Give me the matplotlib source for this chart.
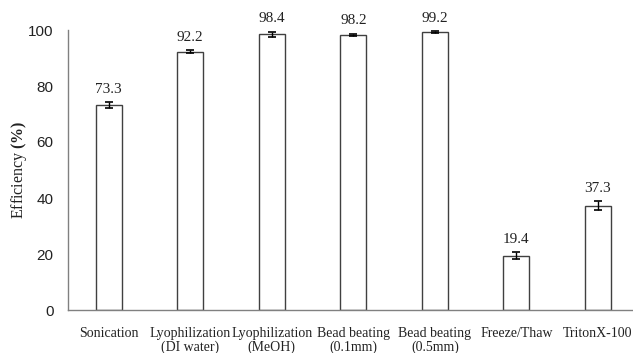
import matplotlib
matplotlib.use("Agg")
import matplotlib.pyplot as plt
import numpy as np

plt.rcParams["mathtext.fontset"] = "custom"
plt.rcParams["mathtext.rm"] = "Liberation Serif"
plt.rcParams["mathtext.bf"] = "Liberation Serif:bold"

categories = ["Sonication", "Lyophilization\n(DI water)", "Lyophilization\n(MeOH)",
              "Bead beating\n(0.1mm)", "Bead beating\n(0.5mm)", "Freeze/Thaw", "TritonX-100"]
values = [73.3, 92.2, 98.4, 98.2, 99.2, 19.4, 37.3]
errors = [1.0, 0.5, 1.0, 0.4, 0.3, 1.3, 1.5]
yticks = [0, 20, 40, 60, 80, 100]

fig = plt.figure(figsize=(6.33, 3.53), dpi=100)
ax = fig.add_axes([68/633, 43/353, 1 - 68/633, (310-30)/353])
x = np.arange(len(categories))
ax.bar(x, values, width=0.32, color="white", edgecolor="#404040", linewidth=1.0, zorder=2)
ax.errorbar(x, values, yerr=errors, fmt="none", ecolor="black", elinewidth=1.0,
            capsize=3, capthick=1.2, zorder=3)
for xi, v, e in zip(x, values, errors):
    ax.text(xi, v + e + 2.3, f"{v:.1f}", ha="center", va="bottom",
            fontfamily="Liberation Serif", fontsize=11, color="#222222")

ax.set_xlim(-0.5, 6.43)
ax.set_ylim(0, 100)
ax.set_yticks(yticks)
ax.set_yticklabels([str(t) for t in yticks], fontfamily="Liberation Sans", fontsize=11,
                   color="#222222")
ax.set_xticks(x)
ax.set_xticklabels(categories, fontfamily="Liberation Serif", fontsize=10, linespacing=1.1,
                   color="#222222")
ax.tick_params(axis="both", length=0)
ax.tick_params(axis="x", pad=12)
ax.tick_params(axis="y", pad=10.5)
for s in ["top", "right"]:
    ax.spines[s].set_visible(False)
for s in ["left", "bottom"]:
    ax.spines[s].set_color("#808080")
    ax.spines[s].set_linewidth(1.0)
ax.set_ylabel("Efficiency $\\mathbf{(\\%)}$", fontfamily="Liberation Serif", fontsize=11.5,
              color="#222222", va="center")
ax.yaxis.set_label_coords((19 - 68) / 565, 0.5)
fig.savefig("out.png", dpi=100)
